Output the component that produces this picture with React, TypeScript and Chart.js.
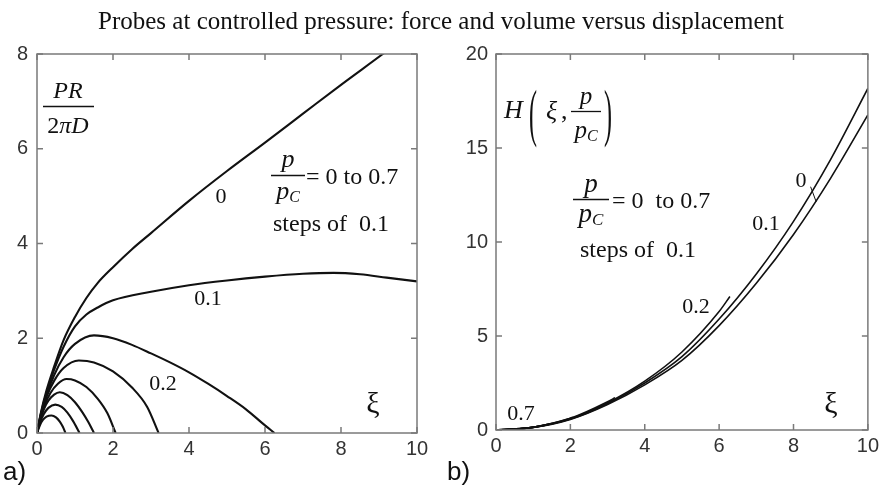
import React, { useEffect, useRef } from "react";
import { Chart, registerables } from "chart.js";

Chart.register(...registerables);

// ---- Panel a): force P R / (2 pi D) versus xi, for p/pc = 0 ... 0.7 ----
const X_TICKS = [0, 2, 4, 6, 8, 10];
const FORCE_Y_TICKS = [0, 2, 4, 6, 8];
const VOLUME_Y_TICKS = [0, 5, 10, 15, 20];

const PRESSURE_LABELS = ["0", "0.1", "0.2", "0.3", "0.4", "0.5", "0.6", "0.7"];

const forceXi00 = [0, 0.1, 0.25, 0.45, 0.7, 1.0, 1.3, 1.6, 2.0, 2.5, 3.0, 4.0, 5, 6, 7, 8, 9.1, 10];
const force00 = [0, 0.42, 0.9, 1.4, 1.96, 2.45, 2.85, 3.17, 3.5, 3.88, 4.22, 4.9, 5.53, 6.13, 6.74, 7.35, 8.0, 8.55];

const forceXi01 = [0, 0.1, 0.25, 0.45, 0.7, 1.0, 1.3, 1.6, 2.0, 3.0, 4.0, 5.0, 6.0, 7.0, 7.8, 8.5, 9.2, 10];
const force01 = [0, 0.4, 0.85, 1.33, 1.82, 2.25, 2.5, 2.65, 2.8, 2.98, 3.12, 3.22, 3.3, 3.36, 3.38, 3.35, 3.28, 3.2];

const forceXi02 = [0, 0.1, 0.25, 0.45, 0.7, 1.0, 1.5, 2.0, 2.5, 3.0, 3.5, 4.0, 4.5, 5.0, 5.5, 6.0, 6.25];
const force02 = [0, 0.38, 0.8, 1.22, 1.6, 1.88, 2.06, 2.0, 1.86, 1.68, 1.49, 1.28, 1.04, 0.78, 0.5, 0.16, 0];

const forceXi03 = [0, 0.1, 0.25, 0.45, 0.7, 1.1, 1.5, 2.0, 2.5, 2.9, 3.2];
const force03 = [0, 0.36, 0.76, 1.1, 1.37, 1.53, 1.49, 1.3, 0.96, 0.55, 0];

const forceXi04 = [0, 0.1, 0.2, 0.35, 0.55, 0.78, 1.0, 1.3, 1.6, 1.85, 2.07];
const force04 = [0, 0.33, 0.58, 0.84, 1.04, 1.14, 1.11, 0.97, 0.72, 0.42, 0];

const forceXi05 = [0, 0.08, 0.18, 0.3, 0.45, 0.6, 0.8, 1.0, 1.2, 1.35, 1.5];
const force05 = [0, 0.26, 0.5, 0.68, 0.81, 0.86, 0.8, 0.65, 0.43, 0.23, 0];

const forceXi06 = [0, 0.08, 0.18, 0.3, 0.48, 0.65, 0.8, 0.95, 1.12];
const force06 = [0, 0.22, 0.4, 0.53, 0.6, 0.55, 0.43, 0.25, 0];

const forceXi07 = [0, 0.08, 0.16, 0.25, 0.38, 0.5, 0.6, 0.68, 0.75];
const force07 = [0, 0.17, 0.28, 0.345, 0.37, 0.33, 0.24, 0.13, 0];

// ---- Panel b): volume H(xi, p/pc) versus xi ----
const volXi00 = [0, 1, 2, 3, 4, 5, 6, 7, 8, 9, 10];
const vol00 = [0, 0.13, 0.56, 1.35, 2.4, 3.7, 5.55, 7.8, 10.4, 13.4, 16.76];

const volXi01 = [0, 1, 2, 3, 4, 5, 6, 7, 8, 9, 10];
const vol01 = [0, 0.14, 0.58, 1.4, 2.5, 3.9, 5.9, 8.3, 11.1, 14.4, 18.17];

const volXi02 = [0, 1, 2, 3, 4, 5, 6, 6.29];
const vol02 = [0, 0.14, 0.6, 1.45, 2.6, 4.15, 6.3, 7.1];

const volXi03 = [0, 1, 2, 3, 3.2];
const vol03 = [0, 0.15, 0.62, 1.5, 1.72];

const volXi04 = [0, 1, 2, 2.07];
const vol04 = [0, 0.15, 0.63, 0.68];

const volXi05 = [0, 0.5, 1, 1.5];
const vol05 = [0, 0.04, 0.15, 0.34];

const volXi06 = [0, 0.5, 1, 1.12];
const vol06 = [0, 0.04, 0.15, 0.19];

const volXi07 = [0, 0.4, 0.75];
const vol07 = [0, 0.03, 0.09];

// short leader tying the "0" label to its curve
const leaderXi = [8.46, 8.61];
const leaderH = [12.94, 12.14];

const FORCE_CURVES = [
  [forceXi00, force00], [forceXi01, force01], [forceXi02, force02], [forceXi03, force03],
  [forceXi04, force04], [forceXi05, force05], [forceXi06, force06], [forceXi07, force07],
];
const VOLUME_CURVES = [
  [volXi00, vol00], [volXi01, vol01], [volXi02, vol02], [volXi03, vol03],
  [volXi04, vol04], [volXi05, vol05], [volXi06, vol06], [volXi07, vol07],
];

const SERIF = '"Liberation Serif", "Times New Roman", serif';
const SANS = '"Liberation Sans", Arial, sans-serif';
const INK = "#111";
const FRAME = "#7a7a7a";
const W = 883;
const H = 488;

const zip = (xs: number[], ys: number[]) => xs.map((x, i) => ({ x, y: ys[i] }));

function put(ctx: CanvasRenderingContext2D, s: string, x: number, y: number, size: number,
  italic = false, align: CanvasTextAlign = "left", family = SERIF) {
  ctx.font = `${italic ? "italic " : ""}${size}px ${family}`;
  ctx.textAlign = align;
  ctx.textBaseline = "alphabetic";
  ctx.fillText(s, x, y);
  return ctx.measureText(s).width;
}

function hline(ctx: CanvasRenderingContext2D, x0: number, x1: number, y: number) {
  ctx.beginPath();
  ctx.lineWidth = 1.3;
  ctx.moveTo(x0, y);
  ctx.lineTo(x1, y);
  ctx.stroke();
}

// p over p_C fraction
function pOverPc(ctx: CanvasRenderingContext2D, cx: number, numBase: number, lineY: number,
  halfW: number, denBase: number, size: number) {
  put(ctx, "p", cx, numBase, size, true, "center");
  hline(ctx, cx - halfW, cx + halfW, lineY);
  ctx.font = `italic ${size}px ${SERIF}`;
  const wp = ctx.measureText("p").width;
  const sub = Math.round(size * 0.62);
  ctx.font = `italic ${sub}px ${SERIF}`;
  const wc = ctx.measureText("C").width;
  const start = cx - (wp + wc) / 2;
  put(ctx, "p", start, denBase, size, true);
  put(ctx, "C", start + wp, denBase + 3, sub, true);
}

function tallGlyph(ctx: CanvasRenderingContext2D, s: string, x: number, cy: number) {
  ctx.save();
  ctx.translate(x, cy);
  ctx.scale(1, 2.6);
  ctx.font = `24px ${SERIF}`;
  ctx.textAlign = "left";
  ctx.textBaseline = "middle";
  ctx.fillText(s, 0, 0);
  ctx.restore();
}

function frameAndTicks(chart: any) {
  const { ctx, chartArea: a, scales } = chart;
  ctx.save();
  ctx.strokeStyle = FRAME;
  ctx.lineWidth = 1.5;
  ctx.strokeRect(a.left, a.top, a.right - a.left, a.bottom - a.top);
  ctx.beginPath();
  const len = 6;
  scales.x.ticks.forEach((t: any) => {
    const px = scales.x.getPixelForValue(t.value);
    ctx.moveTo(px, a.bottom); ctx.lineTo(px, a.bottom - len);
    ctx.moveTo(px, a.top); ctx.lineTo(px, a.top + len);
  });
  scales.y.ticks.forEach((t: any) => {
    const py = scales.y.getPixelForValue(t.value);
    ctx.moveTo(a.left, py); ctx.lineTo(a.left + len, py);
    ctx.moveTo(a.right, py); ctx.lineTo(a.right - len, py);
  });
  ctx.stroke();
  ctx.restore();
}

function drawForceText(ctx: CanvasRenderingContext2D) {
  ctx.fillStyle = INK;
  ctx.strokeStyle = INK;
  // title
  put(ctx, "Probes at controlled pressure: force and volume versus displacement", 441, 29, 25, false, "center");
  // y label PR / 2πD
  put(ctx, "PR", 68, 98, 24, true, "center");
  hline(ctx, 43, 94, 106.5);
  ctx.font = `24px ${SERIF}`;
  const w2 = ctx.measureText("2").width;
  ctx.font = `italic 24px ${SERIF}`;
  const wr = ctx.measureText("πD").width;
  const s0 = 68 - (w2 + wr) / 2;
  put(ctx, "2", s0, 133, 24);
  put(ctx, "πD", s0 + w2, 133, 24, true);
  // legend text
  pOverPc(ctx, 288, 167, 175.5, 17, 199, 26);
  put(ctx, "= 0 to 0.7", 306, 184, 24);
  put(ctx, "steps of  0.1", 273, 231, 24);
  // curve labels
  put(ctx, PRESSURE_LABELS[0], 221, 203, 22, false, "center");
  put(ctx, PRESSURE_LABELS[1], 208, 305, 22, false, "center");
  put(ctx, PRESSURE_LABELS[2], 163, 390, 22, false, "center");
  put(ctx, "ξ", 373, 413, 30, false, "center");
  // panel tag
  put(ctx, "a)", 3, 480, 26, false, "left", SANS);
}

function drawVolumeText(ctx: CanvasRenderingContext2D) {
  ctx.fillStyle = INK;
  ctx.strokeStyle = INK;
  // y label H(ξ, p/pc)
  put(ctx, "H", 504, 118, 26, true);
  tallGlyph(ctx, "(", 529, 118);
  put(ctx, "ξ", 546, 119, 26, true);
  put(ctx, ",", 561, 119, 26);
  pOverPc(ctx, 586, 104, 111.5, 15, 138, 25);
  tallGlyph(ctx, ")", 604, 118);
  // legend text
  pOverPc(ctx, 591, 192, 199.5, 18, 222, 27);
  put(ctx, "= 0  to 0.7", 612, 208, 24);
  put(ctx, "steps of  0.1", 580, 257, 24);
  // curve labels
  put(ctx, PRESSURE_LABELS[0], 801, 187, 22, false, "center");
  put(ctx, PRESSURE_LABELS[1], 766, 230, 22, false, "center");
  put(ctx, PRESSURE_LABELS[2], 696, 313, 22, false, "center");
  put(ctx, PRESSURE_LABELS[7], 521, 420, 22, false, "center");
  put(ctx, "ξ", 831, 413, 30, false, "center");
  put(ctx, "b)", 447, 480, 26, false, "left", SANS);
}

function makeConfig(curves: number[][][], yTicks: number[], pad: any, yWidth: number,
  xHeight: number, yPad: number, lineW: number, text: (c: CanvasRenderingContext2D) => void,
  extra: any[] = []) {
  const datasets: any[] = curves.map(([xs, ys], i) => ({
    label: PRESSURE_LABELS[i],
    data: zip(xs, ys),
    borderColor: INK,
    borderWidth: lineW,
    pointRadius: 0,
    fill: false,
    showLine: true,
    cubicInterpolationMode: "monotone",
  }));
  extra.forEach((d) => datasets.push(d));
  const tickFont = { family: SANS, size: 20 };
  return {
    type: "scatter" as const,
    data: { datasets },
    options: {
      animation: false,
      responsive: false,
      events: [],
      layout: { padding: pad },
      plugins: { legend: { display: false }, tooltip: { enabled: false }, title: { display: false } },
      scales: {
        x: {
          type: "linear",
          min: X_TICKS[0],
          max: X_TICKS[X_TICKS.length - 1],
          afterBuildTicks: (s: any) => { s.ticks = X_TICKS.map((v) => ({ value: v })); },
          afterFit: (s: any) => { s.height = xHeight; },
          grid: { display: false, drawTicks: false },
          border: { display: false },
          ticks: { color: "#333", font: tickFont, padding: 4, maxRotation: 0 },
        },
        y: {
          type: "linear",
          min: yTicks[0],
          max: yTicks[yTicks.length - 1],
          afterBuildTicks: (s: any) => { s.ticks = yTicks.map((v) => ({ value: v })); },
          afterFit: (s: any) => { s.width = yWidth; },
          grid: { display: false, drawTicks: false },
          border: { display: false },
          ticks: { color: "#333", font: tickFont, padding: yPad },
        },
      },
    },
    plugins: [{
      id: "panelDecor",
      afterDatasetsDraw(chart: any) {
        frameAndTicks(chart);
        chart.ctx.save();
        text(chart.ctx);
        chart.ctx.restore();
      },
    }],
  };
}

export default function App() {
  const leftRef = useRef<HTMLCanvasElement>(null);
  const rightRef = useRef<HTMLCanvasElement>(null);

  useEffect(() => {
    const force = new Chart(leftRef.current as HTMLCanvasElement, makeConfig(
      FORCE_CURVES, FORCE_Y_TICKS,
      { left: 0, top: 54, right: W - 417, bottom: 0 },
      37, H - 433, 9, 2.1, drawForceText,
    ) as any);
    const leader = {
      label: "leader",
      data: zip(leaderXi, leaderH),
      borderColor: INK,
      borderWidth: 1,
      pointRadius: 0,
      showLine: true,
    };
    const volume = new Chart(rightRef.current as HTMLCanvasElement, makeConfig(
      VOLUME_CURVES, VOLUME_Y_TICKS,
      { left: 456, top: 54, right: 10, bottom: 0 },
      40, H - 430, 8, 1.6, drawVolumeText, [leader],
    ) as any);
    return () => { force.destroy(); volume.destroy(); };
  }, []);

  return (
    <div style={{ position: "fixed", left: 0, top: 0, width: W, height: H, background: "#fff" }}>
      <canvas ref={leftRef} width={W} height={H} style={{ position: "absolute", left: 0, top: 0 }} />
      <canvas ref={rightRef} width={W} height={H} style={{ position: "absolute", left: 0, top: 0 }} />
    </div>
  );
}
